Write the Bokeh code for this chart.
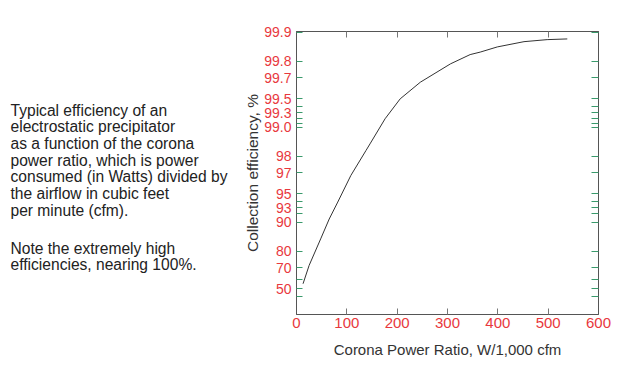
import numpy as np
from bokeh.plotting import figure
from bokeh.layouts import row
from bokeh.models import LinearAxis, FixedTicker, CustomJSTickFormatter, Label, Range1d
from bokeh.embed import file_html
from bokeh.resources import INLINE

# ---- data ----
power_ratio = [13, 25, 48, 65, 82, 108, 138, 146, 176, 206, 246, 306, 345, 365, 399, 452, 498, 538]
efficiency = [55.8, 71.6, 85.1, 90.8, 93.9, 96.8, 98.25, 98.51, 99.19, 99.50, 99.666,
              99.786, 99.829, 99.839, 99.858, 99.875, 99.881, 99.883]
eff_tick_labels = [50, 70, 80, 90, 93, 95, 97, 98, 99.0, 99.3, 99.5, 99.7, 99.8, 99.9]
eff_minor_ticks = [40, 60, 92, 94, 99.1, 99.2, 99.4]
x_ticks = [0, 100, 200, 300, 400, 500, 600]
x_inner_ticks = [100, 200, 300, 400, 500]

caption_1 = ["Typical efficiency of an",
             "electrostatic precipitator",
             "as a function of the corona",
             "power ratio, which is power",
             "consumed (in Watts) divided by",
             "the airflow in cubic feet",
             "per minute (cfm)."]
caption_2 = ["Note the extremely high",
             "efficiencies, nearing 100%."]


def pen_scale(e):
    # efficiency axis: logarithm of the penetration (100 - efficiency)
    return -np.log10(100.0 - np.asarray(e, dtype=float))


RED = "#e8383d"
GREEN = "#3a9a6c"
AXIS = "#555555"
FONT = "Liberation Sans"

TOP, BOTTOM, LEFT, RIGHT = 31, 314, 296, 598
TW, H = 240, 376

# ---- caption panel (left); its frame is aligned with the chart frame ----
t = figure(width=TW, height=H, output_backend="svg", toolbar_location=None, title=None,
           x_range=Range1d(0, TW), y_range=Range1d(BOTTOM, TOP),
           x_axis_location=None, y_axis_location=None,
           min_border=0, min_border_left=0, min_border_right=0,
           min_border_top=TOP, min_border_bottom=H - BOTTOM)
t.grid.grid_line_color = None
t.outline_line_color = None
for i, line in enumerate(caption_1):
    t.add_layout(Label(x=10, y=109.5 + i * 16.7, text=line, text_font=FONT, text_font_size="15.6px",
                       text_color="#222222", text_baseline="middle", text_align="left"))
for i, line in enumerate(caption_2):
    t.add_layout(Label(x=10, y=247.7 + i * 16.7, text=line, text_font=FONT, text_font_size="15.6px",
                       text_color="#222222", text_baseline="middle", text_align="left"))

# ---- chart panel (right) ----
p = figure(width=628 - TW, height=H, output_backend="svg", toolbar_location=None, title=None,
           x_range=Range1d(0, 600), y_range=Range1d(-1.969, 1.01),
           x_axis_location=None, y_axis_location=None,
           min_border_left=LEFT - TW, min_border_right=628 - RIGHT,
           min_border_top=TOP, min_border_bottom=H - BOTTOM)
p.grid.grid_line_color = None
p.outline_line_color = AXIS
p.outline_line_width = 1

eff_ticker = FixedTicker(ticks=list(pen_scale(eff_tick_labels)), minor_ticks=list(pen_scale(eff_minor_ticks)))
eff_fmt = CustomJSTickFormatter(code="""
const e = 100 - Math.pow(10, -tick);
return e >= 98.95 ? e.toFixed(1) : e.toFixed(0);
""")
blank_fmt = CustomJSTickFormatter(code="return '';")

left = LinearAxis(ticker=eff_ticker, formatter=eff_fmt, axis_label="Collection efficiency, %",
                  major_tick_in=6, major_tick_out=0, minor_tick_in=6, minor_tick_out=0,
                  major_tick_line_color=GREEN, minor_tick_line_color=GREEN,
                  axis_line_color=AXIS, major_label_text_color=RED,
                  major_label_text_font_size="14px", major_label_text_font=FONT,
                  major_label_standoff=5, axis_label_standoff=0,
                  axis_label_text_font=FONT, axis_label_text_font_size="15.5px",
                  axis_label_text_font_style="normal", axis_label_text_color="#333333")
right = LinearAxis(ticker=eff_ticker, formatter=blank_fmt,
                   major_tick_in=7, major_tick_out=0, minor_tick_in=7, minor_tick_out=0,
                   major_tick_line_color=GREEN, minor_tick_line_color=GREEN,
                   axis_line_color=AXIS, major_label_standoff=0)
bottom = LinearAxis(ticker=FixedTicker(ticks=x_ticks, minor_ticks=[]),
                    axis_label="Corona Power Ratio, W/1,000 cfm",
                    major_tick_in=6, major_tick_out=0, minor_tick_in=0, minor_tick_out=0,
                    major_tick_line_color="#777777", axis_line_color=AXIS,
                    major_label_text_color=RED, major_label_text_font_size="15px",
                    major_label_text_font=FONT, major_label_standoff=3, axis_label_standoff=10,
                    axis_label_text_font=FONT, axis_label_text_font_size="15px",
                    axis_label_text_font_style="normal", axis_label_text_color="#333333")
top = LinearAxis(ticker=FixedTicker(ticks=x_inner_ticks, minor_ticks=[]), formatter=blank_fmt,
                 major_tick_in=6, major_tick_out=0, minor_tick_in=0, minor_tick_out=0,
                 major_tick_line_color="#777777", axis_line_color=AXIS, major_label_standoff=0)
p.add_layout(left, "left")
p.add_layout(right, "right")
p.add_layout(bottom, "below")
p.add_layout(top, "above")

p.line(power_ratio, pen_scale(efficiency), line_color="#333333", line_width=1)

layout = row(t, p, spacing=0)
open("out.html", "w").write(file_html(layout, INLINE))
